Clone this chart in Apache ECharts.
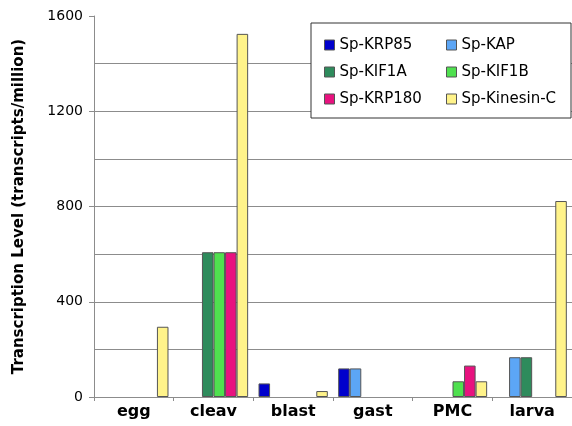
<!DOCTYPE html>
<html>
<head>
<meta charset="utf-8">
<script src="https://cdn.jsdelivr.net/npm/echarts@6/dist/echarts.min.js"></script>
<style>
  html, body { margin: 0; padding: 0; background: #fff; }
  #chart { width: 572px; height: 426px; }
</style>
</head>
<body>
<div id="chart"></div>
<script>
const stages = ['egg', 'cleav', 'blast', 'gast', 'PMC', 'larva'];

// transcripts per million, null = no bar drawn
const krp85 = [null, null, 57, 120, null, null];
const kap = [null, null, null, 120, null, 167];
const kif1a = [null, 608, null, null, null, 167];
const kif1b = [null, 608, null, null, 66, null];
const krp180 = [null, 608, null, null, 132, null];
const kinesinC = [295, 1525, 25, null, 66, 823];

const SERIES = [
  { name: 'Sp-KRP85', data: krp85, color: '#0000cc' },
  { name: 'Sp-KAP', data: kap, color: '#5ca6f6' },
  { name: 'Sp-KIF1A', data: kif1a, color: '#2e8b5c' },
  { name: 'Sp-KIF1B', data: kif1b, color: '#4fe04f' },
  { name: 'Sp-KRP180', data: krp180, color: '#e8127f' },
  { name: 'Sp-Kinesin-C', data: kinesinC, color: '#fff38a' },
];

const FONT = 'DejaVu Sans';
const gridGray = '#8c8c8c';

const legendBase = {
  orient: 'vertical',
  top: 37,
  padding: 0,
  itemWidth: 10,
  itemHeight: 10,
  itemGap: 11,
  icon: 'rect',
  z: 10,
  itemStyle: { borderColor: '#555', borderWidth: 1 },
  textStyle: { fontFamily: FONT, fontSize: 15, color: '#000', lineHeight: 16 },
};

const chart = echarts.init(document.getElementById('chart'));
chart.setOption({
  backgroundColor: '#fff',
  animation: false,
  grid: { left: 94, right: -5, top: 16, bottom: 29 },
  legend: [
    { ...legendBase, left: 324, data: ['Sp-KRP85', 'Sp-KIF1A', 'Sp-KRP180'] },
    { ...legendBase, left: 446, data: ['Sp-KAP', 'Sp-KIF1B', 'Sp-Kinesin-C'] },
  ],
  graphic: [{
    type: 'rect',
    z: 5,
    shape: { x: 311, y: 23, width: 260, height: 95 },
    style: { fill: '#fff', stroke: '#333', lineWidth: 1 },
  }],
  xAxis: {
    type: 'category',
    data: stages,
    axisLine: { lineStyle: { color: gridGray } },
    axisTick: { show: true, length: 4, lineStyle: { color: gridGray } },
    axisLabel: { fontFamily: FONT, fontWeight: 'bold', fontSize: 16, color: '#000', margin: 7 },
  },
  yAxis: {
    type: 'value',
    min: 0,
    max: 1600,
    interval: 400,
    name: 'Transcription Level (transcripts/million)',
    nameLocation: 'middle',
    nameGap: 67,
    nameTextStyle: { fontFamily: FONT, fontWeight: 'bold', fontSize: 15, color: '#000' },
    axisLine: { show: true, lineStyle: { color: gridGray } },
    axisTick: { show: true, length: 5, lineStyle: { color: gridGray } },
    axisLabel: { fontFamily: FONT, fontSize: 14, color: '#000', margin: 11, formatter: v => String(v) },
    splitLine: { show: true, showMaxLine: false, lineStyle: { color: gridGray, width: 1 } },
    minorTick: { show: false, splitNumber: 2 },
    minorSplitLine: { show: true, lineStyle: { color: gridGray, width: 1 } },
  },
  series: SERIES.map(s => ({
    name: s.name,
    type: 'bar',
    data: s.data,
    barGap: '0%',
    barCategoryGap: '13%',
    itemStyle: { color: s.color, borderColor: '#555', borderWidth: 1 },
  })),
});
</script>
</body>
</html>
